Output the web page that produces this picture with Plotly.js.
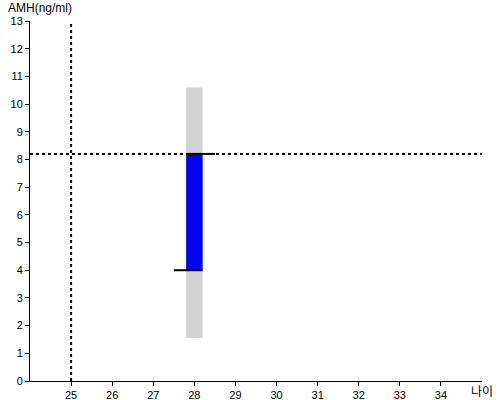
<!DOCTYPE html>
<html>
<head>
<meta charset="utf-8">
<script src="https://cdn.plot.ly/plotly-3.0.1.min.js"></script>
<style>html,body{margin:0;padding:0;background:#fff;}#chart{width:500px;height:400px;}</style>
</head>
<body>
<div id="chart"></div>
<script>
// Data
var ageCategory = [28];
var rangeLow = [1.55];
var rangeHigh = [10.6];
var amhLow = [4.0];
var amhHigh = [8.2];
var refAge = 25;
var refAmh = 8.2;
var xTicks = [25, 26, 27, 28, 29, 30, 31, 32, 33, 34];
var yTicks = [0,1,2,3,4,5,6,7,8,9,10,11,12,13];
var xRange = [24, 35];
var yRange = [0, 13];

var barW = 0.4;
var traces = [
  {type:'bar', x: ageCategory, y: [rangeHigh[0]-rangeLow[0]], base: rangeLow, width: barW,
   marker:{color:'#d3d3d3'}, hoverinfo:'skip'},
  {type:'bar', x: ageCategory, y: [amhHigh[0]-amhLow[0]], base: amhLow, width: barW,
   marker:{color:'#0000ff'}, hoverinfo:'skip'},
  {type:'scatter', mode:'lines', x:[refAge, refAge], y: yRange,
   line:{color:'#000', width:2, dash:'dot'}},
  {type:'scatter', mode:'lines', x: xRange, y:[refAmh, refAmh],
   line:{color:'#000', width:2, dash:'dot'}},
  {type:'scatter', mode:'lines', x:[ageCategory[0]-0.5, ageCategory[0]+barW/2], y:[amhLow[0], amhLow[0]],
   line:{color:'#000', width:2}},
  {type:'scatter', mode:'lines', x:[ageCategory[0]-barW/2, ageCategory[0]+0.5], y:[amhHigh[0], amhHigh[0]],
   line:{color:'#000', width:2}}
];

var fnt = {family:'Liberation Sans, Arial, sans-serif', size:11, color:'#000'};
var layout = {
  width:500, height:400,
  margin:{l:30, r:18, t:21, b:19},
  showlegend:false,
  barmode:'overlay',
  plot_bgcolor:'#fff', paper_bgcolor:'#fff',
  xaxis:{range:xRange, tickvals:xTicks, ticktext:xTicks.map(String), showgrid:false, zeroline:false,
         showline:true, linecolor:'#000', linewidth:1, ticks:'outside', ticklen:4, tickcolor:'#000',
         tickfont:fnt, fixedrange:true},
  yaxis:{range:yRange, tickvals:yTicks, ticktext:yTicks.map(String), showgrid:false, zeroline:false,
         showline:true, linecolor:'#000', linewidth:1, ticks:'outside', ticklen:4, tickcolor:'#000',
         tickfont:fnt, fixedrange:true},
  annotations:[
    {text:'AMH(ng/ml)', xref:'paper', yref:'paper', x:-0.053, y:1.0, xanchor:'left', yanchor:'bottom',
     xshift:0, yshift:4, showarrow:false, font:{family:'Liberation Sans, Arial, sans-serif', size:12, color:'#000'}},
    {text:'나이', xref:'paper', yref:'paper', x:1.0, y:0, xanchor:'left', yanchor:'middle',
     xshift:-12, yshift:-9, borderpad:0, showarrow:false, font:{family:'Noto Sans CJK KR, sans-serif', size:12, color:'#000'}}
  ]
};
Plotly.newPlot('chart', traces, layout, {displayModeBar:false, staticPlot:true});
</script>
</body>
</html>
